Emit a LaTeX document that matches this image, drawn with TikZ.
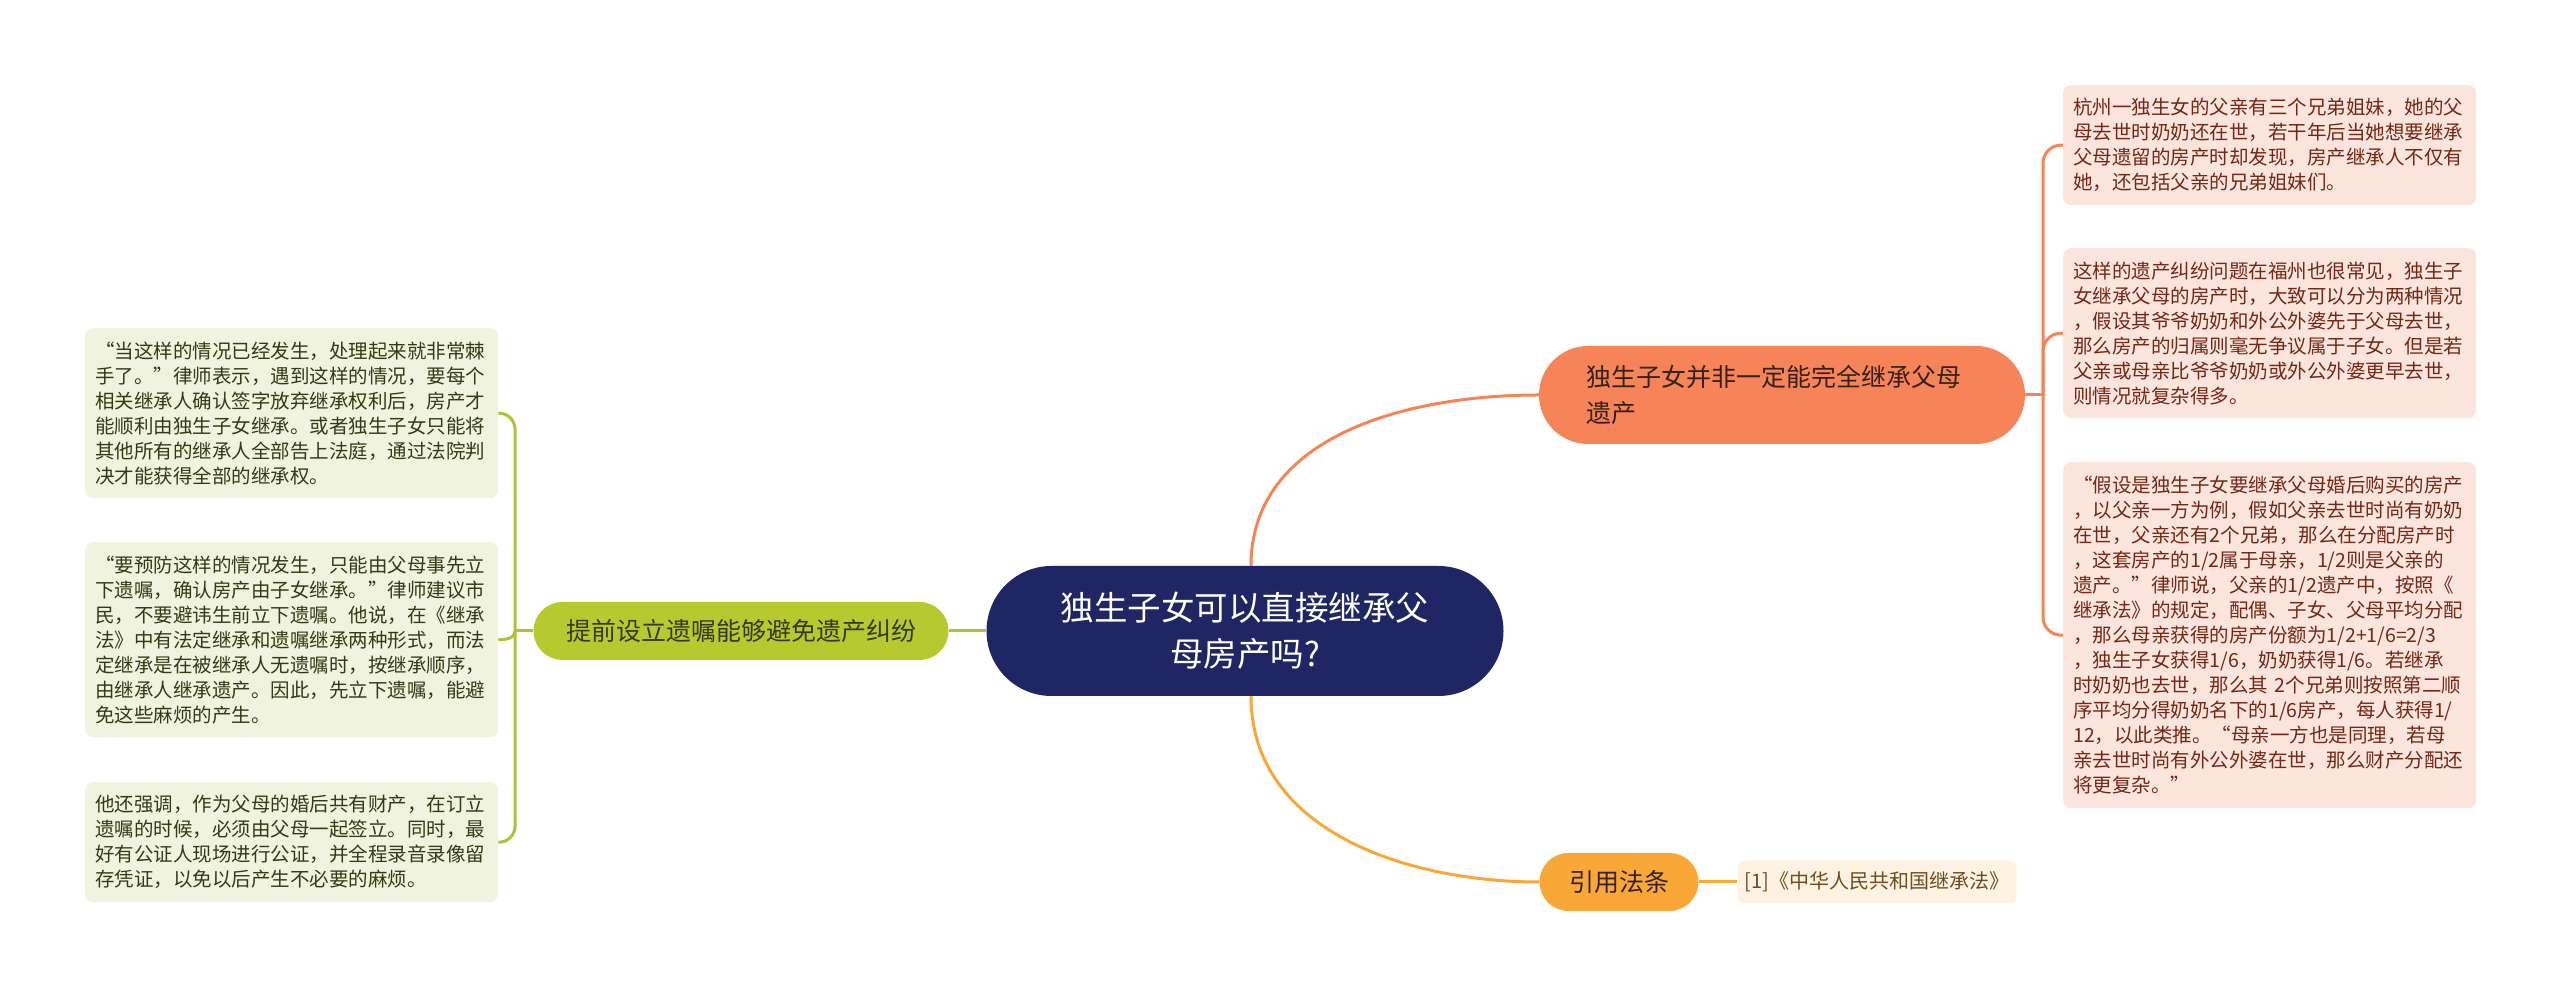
\documentclass[tikz,border=0pt]{standalone}
\usepackage{fontspec}
\setmainfont{Noto Sans CJK SC}
\usepackage{tikz}

\definecolor{azul}{RGB}{32,38,99}
\definecolor{coral}{RGB}{247,131,89}
\definecolor{rosa}{RGB}{252,229,220}
\definecolor{textorosa}{RGB}{115,40,22}
\definecolor{naranja}{RGB}{249,168,56}
\definecolor{crema}{RGB}{254,243,226}
\definecolor{textocrema}{RGB}{110,76,32}
\definecolor{oliva}{RGB}{182,202,48}
\definecolor{lineaoliva}{RGB}{172,196,52}
\definecolor{verdeclaro}{RGB}{240,243,222}
\definecolor{textoverde}{RGB}{52,58,22}
\definecolor{textooscuro}{RGB}{52,34,24}

\tikzset{
	raiz/.style={fill=azul, text=white, rounded corners=65pt, minimum width=517pt, minimum height=130pt, inner sep=0pt, align=center, font=\fontsize{33.5}{46}\selectfont},
	rama/.style={rounded corners=29pt, minimum height=58pt, inner sep=0pt, text=textooscuro, font=\fontsize{25}{36}\selectfont},
	hoja/.style={anchor=north west, rounded corners=8pt, text width=393pt, inner xsep=10pt, inner ysep=0pt, align=left, font=\fontsize{19.5}{25}\selectfont},
	linea/.style={line width=3pt}
}

\begin{document}
\begin{tikzpicture}[x=1pt, y=1pt]
			
			\useasboundingbox (0,0) rectangle (2560,996);
			
			% Nodo central
			\node[raiz] (ctr) at (1245,365) {独生子女可以直接继承父\\母房产吗?};
			
			% Ramas
			\node[rama, fill=coral, rounded corners=49pt, minimum height=98pt, text width=392pt, inner xsep=47pt, align=left] (fam) at (1782,601) {独生子女并非一定能完全继承父母\\遗产};
			\node[rama, fill=naranja, minimum width=159pt] (cite) at (1619,114) {引用法条};
			\node[rama, fill=oliva, minimum width=415pt, text=textoverde] (will) at (741,365) {提前设立遗嘱能够避免遗产纠纷};
			
			% Hojas de la derecha
			\node[hoja, fill=rosa, text=textorosa, minimum height=120pt] (r1) at (2063,911) {杭州一独生女的父亲有三个兄弟姐妹，她的父\\母去世时奶奶还在世，若干年后当她想要继承\\父母遗留的房产时却发现，房产继承人不仅有\\她，还包括父亲的兄弟姐妹们。};
			\node[hoja, fill=rosa, text=textorosa, minimum height=170pt] (r2) at (2063,748) {这样的遗产纠纷问题在福州也很常见，独生子\\女继承父母的房产时，大致可以分为两种情况\\，假设其爷爷奶奶和外公外婆先于父母去世，\\那么房产的归属则毫无争议属于子女。但是若\\父亲或母亲比爷爷奶奶或外公外婆更早去世，\\则情况就复杂得多。};
			\node[hoja, fill=rosa, text=textorosa, minimum height=346pt] (r3) at (2063,534) {“假设是独生子女要继承父母婚后购买的房产\\，以父亲一方为例，假如父亲去世时尚有奶奶\\在世，父亲还有2个兄弟，那么在分配房产时\\，这套房产的1/2属于母亲，1/2则是父亲的\\遗产。”律师说，父亲的1/2遗产中，按照《\\继承法》的规定，配偶、子女、父母平均分配\\，那么母亲获得的房产份额为1/2+1/6=2/3\\，独生子女获得1/6，奶奶获得1/6。若继承\\时奶奶也去世，那么其~2个兄弟则按照第二顺\\序平均分得奶奶名下的1/6房产，每人获得1/\\12，以此类推。“母亲一方也是同理，若母\\亲去世时尚有外公外婆在世，那么财产分配还\\将更复杂。”};
			
			% Hoja de abajo
			\node[rounded corners=8pt, fill=crema, text=textocrema, minimum width=279pt, minimum height=43pt, inner sep=0pt, font=\fontsize{20}{25}\selectfont] (law) at (1877,114) {[1]《中华人民共和国继承法》};
			
			% Hojas de la izquierda
			\node[hoja, fill=verdeclaro, text=textoverde, minimum height=170pt] (l1) at (85,668) {“当这样的情况已经发生，处理起来就非常棘\\手了。”律师表示，遇到这样的情况，要每个\\相关继承人确认签字放弃继承权利后，房产才\\能顺利由独生子女继承。或者独生子女只能将\\其他所有的继承人全部告上法庭，通过法院判\\决才能获得全部的继承权。};
			\node[hoja, fill=verdeclaro, text=textoverde, minimum height=195pt] (l2) at (85,454) {“要预防这样的情况发生，只能由父母事先立\\下遗嘱，确认房产由子女继承。”律师建议市\\民，不要避讳生前立下遗嘱。他说，在《继承\\法》中有法定继承和遗嘱继承两种形式，而法\\定继承是在被继承人无遗嘱时，按继承顺序，\\由继承人继承遗产。因此，先立下遗嘱，能避\\免这些麻烦的产生。};
			\node[hoja, fill=verdeclaro, text=textoverde, minimum height=120pt] (l3) at (85,214) {他还强调，作为父母的婚后共有财产，在订立\\遗嘱的时候，必须由父母一起签立。同时，最\\好有公证人现场进行公证，并全程录音录像留\\存凭证，以免以后产生不必要的麻烦。};
			
			% Puntos de union
			\coordinate (jr) at (2043,601);
			\coordinate (jl) at (515,365);
			
			% Conectores del centro
			\draw[linea, coral] ([xshift=6pt]ctr.north) to[out=90, in=180] (fam.west);
			\draw[linea, naranja] ([xshift=6pt]ctr.south) to[out=-90, in=180] (cite.west);
			\draw[linea, lineaoliva] (ctr.west) -- (will.east);
			\draw[linea, naranja] (cite.east) -- (law.west);
			
			% Conectores de la derecha
			\draw[linea, coral] (fam.east) -- (jr);
			\draw[linea, coral, rounded corners=18pt] (jr) |- (r1.west);
			\draw[linea, coral, rounded corners=18pt] (jr) |- (r2.west);
			\draw[linea, coral, rounded corners=18pt] (jr) |- (r3.west);
			
			% Conectores de la izquierda
			\draw[linea, lineaoliva] (will.west) -- (jl);
			\draw[linea, lineaoliva, rounded corners=16pt] (jl) |- (l1.east);
			\draw[linea, lineaoliva] (jl) to[out=-90, in=0] (l2.east);
			\draw[linea, lineaoliva, rounded corners=16pt] (jl) |- (l3.east);
			
		\end{tikzpicture}
\end{document}
